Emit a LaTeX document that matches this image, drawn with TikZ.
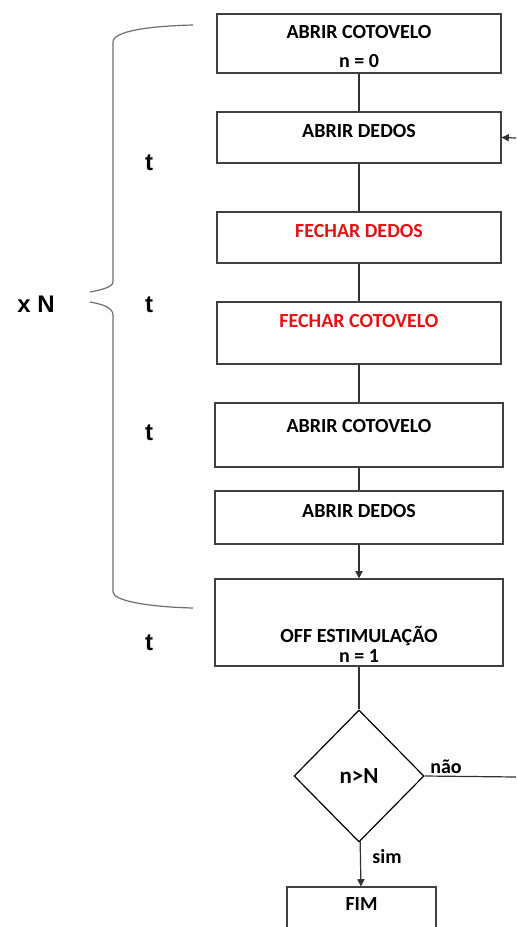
\documentclass[tikz,border=0pt]{standalone}
\usepackage{fontspec}
\setmainfont{Carlito}
\newfontfamily\arialfont{Liberation Sans}
\usetikzlibrary{arrows.meta,positioning,shapes.geometric}
\definecolor{frame}{RGB}{64,64,64}
\definecolor{wire}{RGB}{50,50,50}
\definecolor{bracegray}{RGB}{110,110,110}
\definecolor{alarm}{RGB}{228,18,18}
\tikzset{
  >={Triangle[length=3.6pt,width=3.6pt]},
  stage/.style={draw=frame,line width=0.6pt,minimum width=142pt,inner sep=0pt},
  wide stage/.style={stage,minimum width=144pt},
  boxtext/.style={font=\fontsize{10}{12}\selectfont\bfseries,text=#1,anchor=base,inner sep=0pt},
  boxtext/.default=black,
  decision/.style={diamond,draw=black,line width=0.6pt,inner sep=0pt,
    minimum width=65pt,minimum height=66pt,font=\fontsize{11.5}{13}\selectfont\bfseries},
  link/.style={draw=wire,line width=0.6pt},
  branch/.style={font=\fontsize{10}{12}\selectfont\bfseries,anchor=base,inner sep=0pt},
  side/.style={font=\arialfont\fontsize{12}{14}\selectfont\bfseries,anchor=base,inner sep=0pt},
  curly/.style={draw=bracegray,line width=0.6pt},
}
\begin{document}
\begin{tikzpicture}[x=0.5pt,y=-0.5pt]
  \useasboundingbox (0,0) rectangle (516,927);
  % boxes of the sequence
  \node[stage,minimum height=29.5pt] (open1) at (359,43.5) {};
  \node[boxtext] (open1txt) at (359,38) {ABRIR COTOVELO};
  \node[boxtext] (count0) at (359,67) {n = 0};
  \node[stage,minimum height=25.5pt] (fingers1) at (359,137.5) {};
  \node[boxtext] (fingers1txt) at (359,137) {ABRIR DEDOS};
  \node[stage,minimum height=25.5pt] (close1) at (359,237.5) {};
  \node[boxtext=alarm] (close1txt) at (359,237) {FECHAR DEDOS};
  \node[stage,minimum height=31pt] (close2) at (359,333) {};
  \node[boxtext=alarm] (close2txt) at (359,327) {FECHAR COTOVELO};
  \node[wide stage,minimum height=32pt] (open2) at (359,435) {};
  \node[boxtext] (open2txt) at (359,432) {ABRIR COTOVELO};
  \node[wide stage,minimum height=26.5pt] (fingers2) at (359,517.5) {};
  \node[boxtext] (fingers2txt) at (359,517) {ABRIR DEDOS};
  \node[wide stage,minimum height=43.5pt] (stop) at (359,622.5) {};
  \node[boxtext] (stoptxt) at (359,642) {OFF ESTIMULAÇÃO};
  \node[boxtext] (count1) at (359,662) {n = 1};
  \node[decision] (check) at (359,776) {n>N};
  \node[stage,minimum width=74.5pt,minimum height=30pt] (fim) at (361.5,917) {};
  \node[boxtext] (fimtxt) at (361.5,910) {FIM};
  % connectors
  \coordinate (loopin) at (516,138);
  \coordinate (loopout) at (516,777);
  \draw[link] (open1) -- (fingers1);
  \draw[link] (fingers1) -- (close1);
  \draw[link] (close1) -- (close2);
  \draw[link] (close2) -- (open2);
  \draw[link] (open2) -- (fingers2);
  \draw[link,->] (fingers2) -- (stop);
  \draw[link] (stop) -- (check);
  \draw[link,->] (check) -- (fim);
  \draw[link] (check.east) -- (loopout);
  \draw[link,->] (loopin) -- (fingers1.east);
  \node[branch] (nao) at (446,773) {não};
  \node[branch] (sim) at (387,863) {sim};
  % brace and times
  \draw[curly] (193,25) .. controls (150,26) and (113,31) .. (113,42) -- (113,282)
    .. controls (113,287) and (101,290) .. (90,292);
  \draw[curly] (90,302) .. controls (101,304) and (113,307) .. (113,315) -- (113,592)
    .. controls (113,601) and (150,607) .. (193,608);
  \node[side] (reps) at (36,312) {x N};
  \foreach \y/\name in {170/ta,312/tb,440/tc,650/td}
    \node[side] (\name) at (149,\y) {t};
\end{tikzpicture}
\end{document}
